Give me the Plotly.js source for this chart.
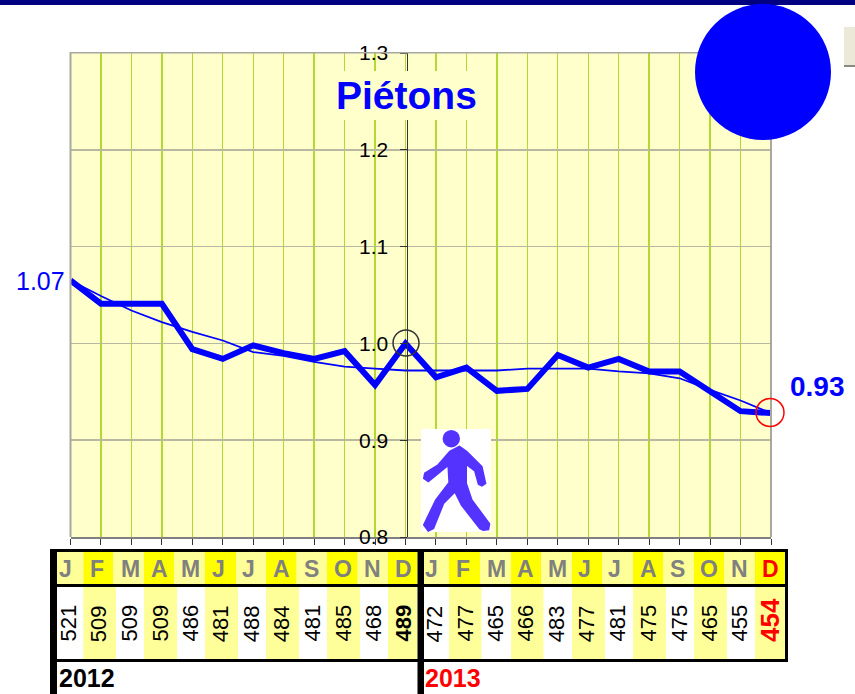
<!DOCTYPE html>
<html><head><meta charset="utf-8">
<script src="https://cdn.plot.ly/plotly-3.0.1.min.js"></script>
<style>html,body{margin:0;padding:0;background:#fff;overflow:hidden}#c{width:855px;height:694px}</style>
</head><body><div id="c"></div>
<script>
const monthLetters = ["J","F","M","A","M","J","J","A","S","O","N","D"];
const counts2012 = [521,509,509,509,486,481,488,484,481,485,468,489];
const counts2013 = [472,477,465,466,483,477,481,475,475,465,455,454];
const monthlyIndex = [1.065,1.041,1.041,1.041,0.994,0.984,0.998,0.990,0.984,0.992,0.957,1.000,
                      0.965,0.975,0.951,0.953,0.988,0.975,0.984,0.971,0.971,0.951,0.930,0.928];
const rollingIndex = [1.065,1.049,1.034,1.022,1.012,1.003,0.991,0.987,0.981,0.976,0.974,0.972,
                      0.972,0.972,0.972,0.974,0.974,0.974,0.971,0.969,0.964,0.952,0.941,0.928];
const title = "Piétons";
const startLabel = "1.07", endLabel = "0.93";

const W=855,H=694;
const px=x=>x/W, py=y=>1-y/H;
const shapes=[], ann=[];
function rect(x0,y0,x1,y1,fill,layer){shapes.push({type:'rect',xref:'paper',yref:'paper',x0:px(x0),x1:px(x1),y0:py(y0),y1:py(y1),fillcolor:fill,line:{width:0},layer:layer||'above'});}
function circ(cx,cy,r,fill,stroke,w){shapes.push({type:'circle',xref:'paper',yref:'paper',x0:px(cx-r),x1:px(cx+r),y0:py(cy-r),y1:py(cy+r),fillcolor:fill,line:{color:stroke||fill,width:w||0}});}
function txt(x,y,t,size,color,bold,o){ann.push(Object.assign({xref:'paper',yref:'paper',x:px(x),y:py(y),text:bold?'<b>'+t+'</b>':t,showarrow:false,font:{family:'Liberation Sans, Arial, sans-serif',size:size,color:color},xanchor:'center',yanchor:'middle',borderpad:0,borderwidth:0},o||{}));}

// top band, button
rect(0,0,855,5,'#000080');
rect(844,27,855,66,'#ece9d8');
rect(844,65,855,67,'#8a8a80');

// plot frame
rect(69.5,52,71.5,537,'#a8a8a0');
rect(770,52,772,537,'#a8a8a0');
rect(70,52,771,53.5,'#a8a8a0');

// tables
const hdr1=[170,250,340,432,522,615,708,798,890,981,1073,1164,1252].map(v=>v/3);
const val1=[170,250,348,432,532,615,714,798,897,981,1080,1164,1252].map(v=>v/3);
const hdr2=[12,87,180,273,364,456,546,639,729,822,912,1005,1096].map(v=>420+v/3);
const val2=[12,87,185,273,371,456,555,639,738,822,921,1005,1096].map(v=>420+v/3);
const let1=[65,96.7,130,159,190.7,218,248,281.7,311.7,343,372.7,403];
const let2=[431.7,463,496.7,525.7,557,584,614,648,677.7,709,739,770];
const num1=[68,98.7,129,160,190,220.7,251.7,281.7,312,343,373,403];
const num2=[434,465,495.3,525,556.7,586.7,617,648,679,709,739,770];
const BLK='#000';
function table(hdr,val,lets,nums,counts,lastColor){
  for(let i=0;i<12;i++){
    rect(hdr[i],552,hdr[i+1],584,i%2?'#ffff00':'#ffff99');
    rect(val[i],587,val[i+1],659,i%2?'#ffff99':'#ffffff');
    txt(lets[i],568.5,monthLetters[i],23,(i==11&&lastColor)?lastColor:'#808080',true);
    const isL=i==11;
    txt(nums[i],642,String(counts[i]),isL&&lastColor?26:22,isL&&lastColor?lastColor:'#000',isL,{textangle:-90,yanchor:'bottom'});
  }
}
table(hdr1,val1,let1,num1,counts2012,null);
table(hdr2,val2,let2,num2,counts2013,'#ff0000');
rect(50,549,788,552,BLK);
rect(57,584,788,587,BLK);
rect(57,659,788,662,BLK);
rect(50,549,57,694,BLK);
rect(417.5,549,424,694,BLK);
rect(785,549,788,662,BLK);
txt(59,678,'2012',25,'#000',true,{xanchor:'left'});
txt(425,678,'2013',25,'#ff0000',true,{xanchor:'left'});

// labels
txt(40,281,startLabel,25,'#0000ff',false);
txt(817.5,386,endLabel,28,'#0000ff',true);
txt(406.5,96,title,39,'#0000ff',true,{bgcolor:'#ffffcc',borderpad:3});

// pointers and disc
circ(406,343,13,'rgba(0,0,0,0)','#333333',1.5);
circ(770,412.5,14,'rgba(0,0,0,0)','#ff0000',1.5);
circ(763,72,68,'#0000ff');

// walking figure
rect(421,429,491,532,'#ffffff');
const fig=[[178,380],[200,395],[245,440],[256,490],[246,497],[236,492],[225,452],[198,432],[198,490],[215,540],[268,612],[265,628],[250,630],[240,625],[185,555],[165,515],[130,550],[100,625],[85,632],[72,615],[108,540],[148,488],[145,435],[85,484],[72,475],[75,460],[115,435],[150,395]];
const figPath=fig.map((p,i)=>(i?'L':'M')+px(400+p[0]/3)+','+py(320+p[1]/3)).join(' ')+' Z';
shapes.push({type:'path',xref:'paper',yref:'paper',path:figPath,fillcolor:'#5533ff',line:{color:'#5533ff',width:2}});
circ(451.3,438.7,8.7,'#5533ff');

const idx=monthlyIndex.map((_,i)=>i);
Plotly.newPlot('c',[
 {x:idx,y:rollingIndex,mode:'lines',line:{color:'#0000ff',width:1.8},cliponaxis:false,hoverinfo:'skip'},
 {x:idx,y:monthlyIndex,mode:'lines',line:{color:'#0000ff',width:6},cliponaxis:false,hoverinfo:'skip'}
],{
 width:W,height:H,margin:{l:0,r:0,t:0,b:0},showlegend:false,
 paper_bgcolor:'#fff',plot_bgcolor:'#ffffcc',
 xaxis:{domain:[px(70.5),px(771)],range:[0,23],dtick:1,tick0:0,showgrid:true,gridcolor:'#b4d832',gridwidth:1.4,
   showticklabels:false,ticks:'outside',ticklen:6,tickcolor:'#333',tickwidth:1,zeroline:false,showline:true,linecolor:'#808080',linewidth:2,anchor:'y'},
 yaxis:{domain:[py(537),py(53)],range:[0.8,1.3],dtick:0.1,tick0:0.8,tickformat:'.1f',showgrid:true,gridcolor:'#b8b8a0',gridwidth:1.5,
   zeroline:false,anchor:'free',position:px(406.5),showline:true,linecolor:'#333',linewidth:1,ticks:'outside',ticklen:7,tickcolor:'#333',tickwidth:1,
   ticklabelstandoff:7,tickfont:{family:'Liberation Sans, Arial, sans-serif',size:21,color:'#000'}},
 shapes:shapes,annotations:ann
},{displayModeBar:false,staticPlot:true});
</script></body></html>
